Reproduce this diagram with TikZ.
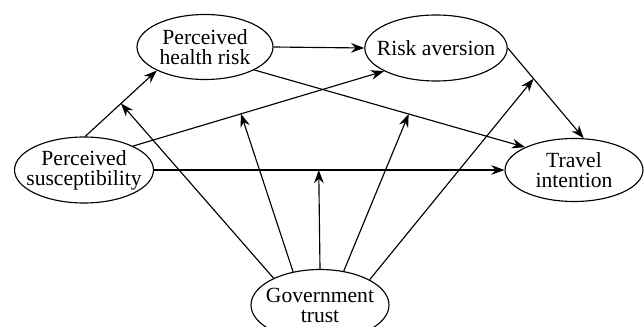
\documentclass[tikz,border=0pt]{standalone}
\usepackage{fontspec}
\setmainfont{Liberation Serif}
\usetikzlibrary{arrows.meta,positioning,shapes.geometric}

\begin{document}
\begin{tikzpicture}[x=0.02cm,y=-0.02cm,
    factor/.style={ellipse,draw,line width=0.65pt,inner xsep=-5pt,inner ysep=0pt,align=center,font=\fontsize{12.3}{11.4}\selectfont},
    effect/.style={-{Stealth[length=7.5pt,width=5.5pt]},line width=0.65pt}]
    \useasboundingbox (0,0) rectangle (644,327);

    \node[factor,minimum width=2.72cm,minimum height=1.3cm] (risk) at (205,47) {Perceived\\health risk};
    \node[factor,minimum width=2.76cm,minimum height=1.32cm] (aver) at (436,48) {Risk aversion};
    \node[factor,minimum width=2.78cm,minimum height=1.32cm] (susc) at (84,170) {Perceived\\susceptibility};
    \node[factor,minimum width=2.76cm,minimum height=1.26cm] (trav) at (574,170) {Travel\\intention};
    \node[factor,minimum width=2.76cm,minimum height=1.42cm] (gov) at (320,305) {Government\\trust};

    % direct effects
    \draw[effect] (susc.88) -- coordinate[pos=0.5] (m1) (risk.206);
    \draw[effect] (risk.east) -- (aver.west);
    \draw[effect] (risk.335) -- coordinate[pos=0.57] (m3) (trav.155);
    \draw[effect] (susc.26) -- coordinate[pos=0.43] (m2) (aver.204);
    \draw[effect] (susc.east) -- coordinate[pos=0.47] (m4) (trav.west);
    \draw[effect] (aver.east) -- coordinate[pos=0.34] (m5) (trav.73);

    % moderation by trust
    \foreach \from/\to in {gov.150/m1,gov.129/m2,gov.north/m4,gov.55/m3,gov.27/m5}
    \draw[effect] (\from) -- (\to);
\end{tikzpicture}
\end{document}
